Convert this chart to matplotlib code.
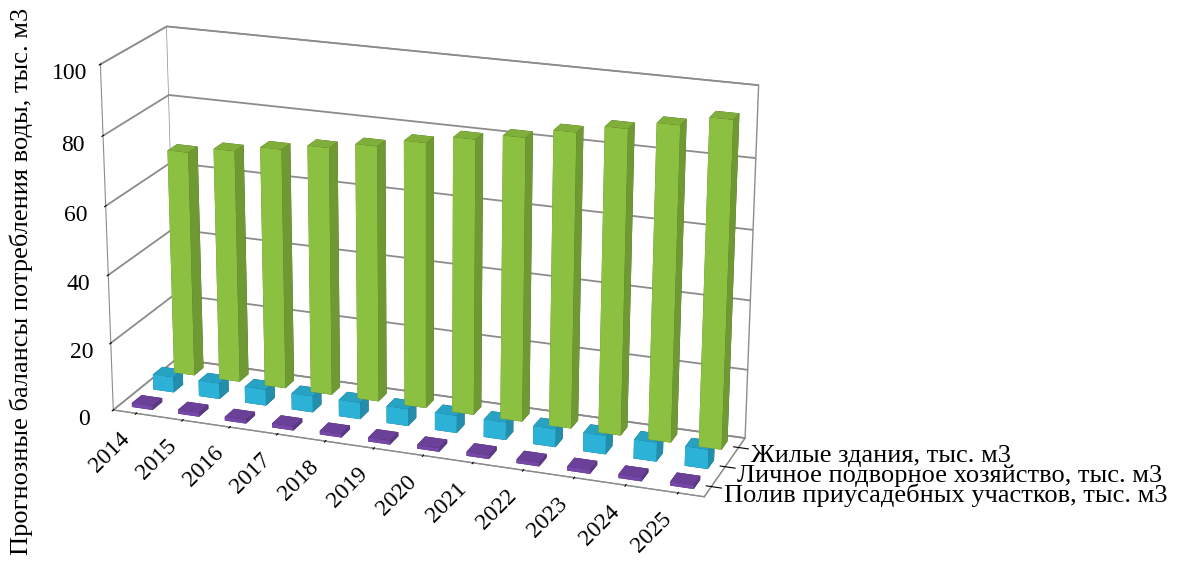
import numpy as np
import matplotlib
matplotlib.use("Agg")
import matplotlib.pyplot as plt
from matplotlib.colors import LightSource

plt.rcParams["font.family"] = ["Liberation Serif", "DejaVu Serif"]

years = ["2014", "2015", "2016", "2017", "2018", "2019",
         "2020", "2021", "2022", "2023", "2024", "2025"]
series_names = ["Полив приусадебных участков, тыс. м3",
                "Личное подворное хозяйство, тыс. м3",
                "Жилые здания, тыс. м3"]
poliv = [1.2, 1.2, 1.1, 1.2, 1.1, 1.2, 1.1, 1.2, 1.1, 1.2, 1.1, 1.2]
podvor = [4.6, 4.7, 4.8, 4.8, 4.9, 5.0, 5.1, 5.2, 5.3, 5.4, 5.5, 5.6]
zhilye = [67, 69, 71, 73, 75, 77.5, 80, 82, 85, 87.5, 90, 93]
ylabel = "Прогнозные балансы потребления воды, тыс. м3"

colors = ["#7E4CB4", "#30C0E8", "#97CF45"]
grey = "#8c8c8c"

fig = plt.figure(figsize=(11.82, 5.63), dpi=100)
ax = fig.add_axes([-0.039, -0.168, 0.78, 1.4], projection="3d")
ax.set_proj_type("persp", focal_length=0.7)
ax.view_init(elev=19.3, azim=-69.6)
ax.set_box_aspect((4.6, 1.13, 2.7), zoom=0.92)

light = LightSource(azdeg=162.6, altdeg=33.4)
x = np.arange(len(years))
w, d = 0.45, 0.45
for j, vals in enumerate([poliv, podvor, zhilye]):
    ax.bar3d(x - w / 2, np.full(len(x), j) - d / 2, np.zeros(len(x)),
             w, d, vals, color=colors[j], shade=True, edgecolor="none",
             lightsource=light)

ax.set_xlim(-0.5, len(years) - 0.5)
ax.set_ylim(-0.5, 2.5)
ax.set_zlim(0, 100)
ax.set_xticks(x)
ax.set_xticklabels(years, rotation=45, ha="right", va="top", fontsize=17)
ax.set_yticks([0, 1, 2])
ax.set_yticklabels(series_names, ha="left", va="center", fontsize=19)
ax.set_zticks([0, 20, 40, 60, 80, 100])
ax.set_zticklabels(["0", "20", "40", "60", "80", "100"], fontsize=17)
ax.zaxis.set_ticks_position("lower")
ax.tick_params(axis="y", pad=-2)
ax.tick_params(axis="z", pad=6)

for axis in (ax.xaxis, ax.yaxis, ax.zaxis):
    axis.set_pane_color((1, 1, 1, 1))
    axis.pane.set_edgecolor(grey)
    axis.line.set_color(grey)
    axis._axinfo["tick"]["color"] = grey
for axis in (ax.xaxis, ax.yaxis):
    axis._axinfo["grid"]["linewidth"] = 0
ax.zaxis._axinfo["grid"]["color"] = grey
ax.zaxis._axinfo["grid"]["linewidth"] = 1.3

fig.text(0.008, 0.5, ylabel, rotation=90, ha="left", va="center", fontsize=19)

fig.savefig("out.png", dpi=100)
